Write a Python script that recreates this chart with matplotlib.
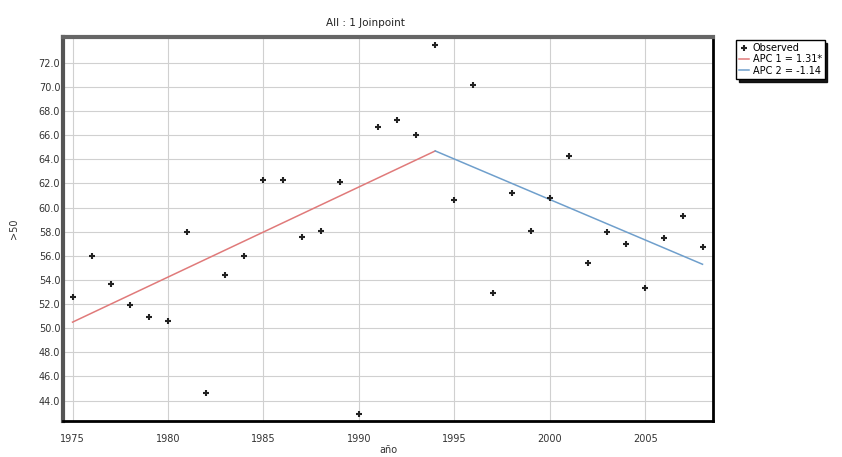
import matplotlib
matplotlib.use("Agg")
import matplotlib.pyplot as plt
import numpy as np

# observed rates per year
years = list(range(1975, 2009))
observed = [52.6, 56.0, 53.7, 51.9, 50.9, 50.6, 58.0, 44.6, 54.4, 56.0,
            62.3, 62.3, 57.6, 58.1, 62.1, 42.9, 66.7, 67.3, 66.0, 73.5,
            60.6, 70.2, 52.9, 61.2, 58.1, 60.8, 64.3, 55.4, 58.0, 57.0,
            53.3, 57.5, 59.3, 56.7]

# joinpoint model segments
seg1_years = [1975, 1994]
seg1_fit = [50.5, 64.7]
seg2_years = [1994, 2008]
seg2_fit = [64.7, 55.3]

x_ticks = [1975, 1980, 1985, 1990, 1995, 2000, 2005]
y_ticks = [44, 46, 48, 50, 52, 54, 56, 58, 60, 62, 64, 66, 68, 70, 72]

fig = plt.figure(figsize=(8.42, 4.57), dpi=100)
ax = fig.add_axes([63/842, 36/457, 650/842, 384/457])

ax.plot(years, observed, linestyle='none', marker='+', ms=4.5, mew=1.5,
        color='#222222', label='Observed', zorder=4)
ax.plot(seg1_years, seg1_fit, color='#e07a7a', lw=1.1, label='APC 1 = 1.31*', zorder=3)
ax.plot(seg2_years, seg2_fit, color='#6f9fcc', lw=1.1, label='APC 2 = -1.14', zorder=3)

ax.set_xlim(1974.5, 2008.55)
ax.set_ylim(42.3, 74.15)
ax.set_xticks(x_ticks)
ax.set_yticks(y_ticks)
ax.set_yticklabels([f"{v:.1f}" for v in y_ticks])
ax.tick_params(axis='both', length=0, labelsize=7, colors='#333333')
ax.tick_params(axis='x', pad=9)
ax.tick_params(axis='y', pad=2)
ax.grid(True, color='#d0d0d0', lw=0.8)
ax.set_axisbelow(True)

ax.spines['left'].set_color('#555555'); ax.spines['left'].set_linewidth(3)
ax.spines['top'].set_color('#666666'); ax.spines['top'].set_linewidth(3)
ax.spines['bottom'].set_color('black'); ax.spines['bottom'].set_linewidth(2)
ax.spines['right'].set_color('black'); ax.spines['right'].set_linewidth(2)

ax.set_xlabel('año', fontsize=7, color='#333333', labelpad=1)
ax.set_ylabel('>50', fontsize=7, color='#333333', labelpad=14)
fig.text(365/842, 1 - 23/457, 'All : 1 Joinpoint', ha='center', va='center',
         fontsize=7.5, color='#222222')

leg = ax.legend(loc='upper left', bbox_to_anchor=(736/842, 1 - 40/457),
                bbox_transform=fig.transFigure, fontsize=7, frameon=True,
                fancybox=False, shadow={'color': 'black', 'alpha': 0.9},
                edgecolor='black', handlelength=1.0, handletextpad=0.4,
                borderpad=0.3, labelspacing=0.15, borderaxespad=0)
leg.get_frame().set_linewidth(1.0)

fig.savefig('out.png', dpi=100)
